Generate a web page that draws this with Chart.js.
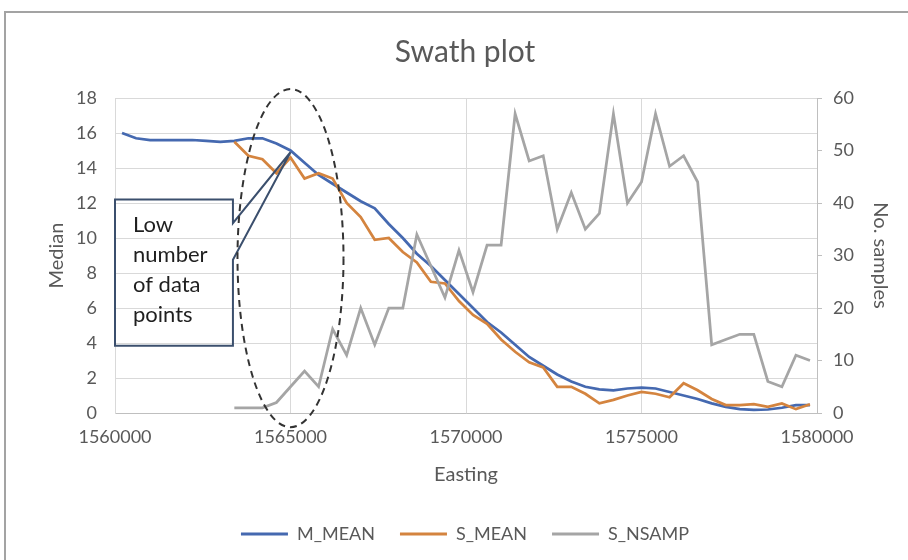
<!DOCTYPE html>
<html>
<head>
<meta charset="UTF-8">
<title>Swath plot</title>
<script src="https://cdn.jsdelivr.net/npm/chart.js@4.4.0/dist/chart.umd.min.js"></script>
<style>
  html, body { margin: 0; padding: 0; background: #fff; overflow: hidden; }
  #frame { position: absolute; left: 4px; top: 11px; width: 1000px; height: 1000px; border: 2px solid #a3a3a3; }
  #wrap { position: absolute; left: 0; top: 0; width: 908px; height: 560px; }
</style>
</head>
<body>
<div id="frame"></div>
<div id="wrap"><canvas id="swathChart" width="908" height="560"></canvas></div>
<script>
// swath centres (400 m bins)
const easting = [
  1560200, 1560600, 1561000, 1561400, 1561800, 1562200, 1562600, 1563000, 1563400, 1563800,
  1564200, 1564600, 1565000, 1565400, 1565800, 1566200, 1566600, 1567000, 1567400, 1567800,
  1568200, 1568600, 1569000, 1569400, 1569800, 1570200, 1570600, 1571000, 1571400, 1571800,
  1572200, 1572600, 1573000, 1573400, 1573800, 1574200, 1574600, 1575000, 1575400, 1575800,
  1576200, 1576600, 1577000, 1577400, 1577800, 1578200, 1578600, 1579000, 1579400, 1579800
];

const mMean = [
  16.0, 15.7, 15.6, 15.6, 15.6, 15.6, 15.55, 15.5, 15.55, 15.7,
  15.7, 15.4, 15.0, 14.3, 13.6, 13.1, 12.6, 12.1, 11.7, 10.8,
  10.0, 9.1, 8.4, 7.6, 6.8, 6.0, 5.2, 4.6, 3.9, 3.2,
  2.7, 2.2, 1.8, 1.5, 1.35, 1.3, 1.4, 1.45, 1.4, 1.2,
  1.0, 0.8, 0.55, 0.35, 0.22, 0.18, 0.2, 0.3, 0.45, 0.45
];

const sMean = [
  null, null, null, null, null, null, null, null, 15.5, 14.7,
  14.5, 13.7, 14.6, 13.4, 13.7, 13.4, 12.0, 11.2, 9.9, 10.0,
  9.2, 8.6, 7.5, 7.4, 6.4, 5.6, 5.1, 4.2, 3.5, 2.9,
  2.6, 1.5, 1.5, 1.1, 0.55, 0.75, 1.0, 1.2, 1.1, 0.9,
  1.7, 1.3, 0.8, 0.45, 0.45, 0.5, 0.35, 0.55, 0.22, 0.5
];

const sNsamp = [
  null, null, null, null, null, null, null, null, 1, 1,
  1, 2, 5, 8, 5, 16, 11, 20, 13, 20,
  20, 34, 28, 22, 31, 23, 32, 32, 57, 48,
  49, 35, 42, 35, 38, 57, 40, 44, 57, 47,
  49, 44, 13, 14, 15, 15, 6, 5, 11, 10
];

const medianTicks = { min: 0, max: 18, step: 2 };
const sampleTicks = { min: 0, max: 60, step: 10 };
const eastingTicks = { min: 1560000, max: 1580000, step: 5000 };

// callout + ring around the sparse western end (data units)
const noteLines = ['Low', 'number', 'of data', 'points'];
const noteBox = { x0: 1560000, x1: 1563360, top: 12.2, bottom: 3.85 };
const notePointer = [10.85, 8.75];
const noteTip = [1565000, 14.9];
const ring = { x: 1565000, y: 8.85, rx: 1510, ry: 9.66 };

function pairs(vals) {
  return easting.map((e, i) => ({ x: e, y: vals[i] }));
}

Chart.defaults.font.family = 'Lato';
Chart.defaults.color = '#595959';

const calloutPlugin = {
  id: 'callout',
  afterInit(chart) {
    // keep the legend strip a fixed height at the bottom
    const legend = chart.legend;
    const fit = legend.fit.bind(legend);
    legend.fit = function () { fit(); this.height = 60; };
  },
  afterDatasetsDraw(chart) {
    const ctx = chart.ctx;
    const x = chart.scales.x, y = chart.scales.y;
    const left = x.getPixelForValue(noteBox.x0);
    const right = x.getPixelForValue(noteBox.x1);
    const top = y.getPixelForValue(noteBox.top);
    const bottom = y.getPixelForValue(noteBox.bottom);
    const tipX = x.getPixelForValue(noteTip[0]);
    const tipY = y.getPixelForValue(noteTip[1]);

    ctx.save();
    ctx.beginPath();
    ctx.moveTo(left, top);
    ctx.lineTo(right, top);
    ctx.lineTo(right, y.getPixelForValue(notePointer[0]));
    ctx.lineTo(tipX, tipY);
    ctx.lineTo(right, y.getPixelForValue(notePointer[1]));
    ctx.lineTo(right, bottom);
    ctx.lineTo(left, bottom);
    ctx.closePath();
    ctx.strokeStyle = '#3b4f6d';
    ctx.lineWidth = 2;
    ctx.stroke();

    ctx.fillStyle = '#1f1f1f';
    ctx.font = '22px Lato';
    ctx.textBaseline = 'alphabetic';
    noteLines.forEach((t, i) => ctx.fillText(t, left + 18, top + 32 + i * 30));

    const cx = x.getPixelForValue(ring.x);
    const cy = y.getPixelForValue(ring.y);
    const rx = x.getPixelForValue(ring.x + ring.rx) - cx;
    const ry = cy - y.getPixelForValue(ring.y + ring.ry);
    ctx.beginPath();
    ctx.ellipse(cx, cy, rx, ry, 0, 0, Math.PI * 2);
    ctx.setLineDash([7, 5]);
    ctx.strokeStyle = '#333';
    ctx.lineWidth = 2;
    ctx.stroke();
    ctx.restore();
  }
};

new Chart(document.getElementById('swathChart'), {
  type: 'line',
  data: {
    datasets: [
      { label: 'M_MEAN', data: pairs(mMean), yAxisID: 'y', borderColor: '#4569b0', backgroundColor: '#4569b0', order: 3 },
      { label: 'S_MEAN', data: pairs(sMean), yAxisID: 'y', borderColor: '#d4843f', backgroundColor: '#d4843f', order: 2 },
      { label: 'S_NSAMP', data: pairs(sNsamp), yAxisID: 'y1', borderColor: '#a5a5a5', backgroundColor: '#a5a5a5', order: 1 }
    ]
  },
  options: {
    responsive: false,
    animation: false,
    layout: { padding: { left: 22, right: 0, top: 0, bottom: 0 } },
    elements: {
      point: { radius: 0 },
      line: { borderWidth: 2.75, tension: 0, fill: false }
    },
    scales: {
      x: {
        type: 'linear',
        min: eastingTicks.min,
        max: eastingTicks.max,
        ticks: { stepSize: eastingTicks.step, padding: 13, font: { size: 18 }, callback: v => String(v) },
        grid: { color: '#d9d9d9', drawTicks: false },
        border: { color: '#bfbfbf' },
        title: { display: true, text: 'Easting', font: { size: 20 }, padding: { top: 0, bottom: 13 } },
        afterFit(scale) { scale.height = 87; }
      },
      y: {
        position: 'left',
        min: medianTicks.min,
        max: medianTicks.max,
        ticks: { stepSize: medianTicks.step, padding: 18, font: { size: 18 } },
        grid: { color: '#d9d9d9', drawTicks: false },
        border: { color: '#d9d9d9' },
        title: { display: true, text: 'Median', font: { size: 20 }, padding: { top: 23 } },
        afterFit(scale) { scale.width = 93; }
      },
      y1: {
        position: 'right',
        min: sampleTicks.min,
        max: sampleTicks.max,
        ticks: { stepSize: sampleTicks.step, padding: 11, font: { size: 18 } },
        grid: { drawOnChartArea: false, tickLength: 5, color: '#bfbfbf' },
        border: { color: '#bfbfbf' },
        title: { display: true, text: 'No. samples', font: { size: 20 }, padding: { top: 16 } },
        afterFit(scale) { scale.width = 91; }
      }
    },
    plugins: {
      title: {
        display: true,
        text: 'Swath plot',
        font: { size: 30, weight: 'normal' },
        color: '#595959',
        padding: { top: 34, bottom: 28 }
      },
      legend: {
        position: 'bottom',
        labels: {
          font: { size: 18 },
          boxWidth: 47,
          boxHeight: 3,
          padding: 25,
          sort: (a, b) => a.datasetIndex - b.datasetIndex,
          generateLabels(chart) {
            return Chart.defaults.plugins.legend.labels.generateLabels(chart)
              .map(l => Object.assign(l, { lineWidth: 0 }));
          }
        }
      },
      tooltip: { enabled: false }
    }
  },
  plugins: [calloutPlugin]
});
</script>
</body>
</html>
